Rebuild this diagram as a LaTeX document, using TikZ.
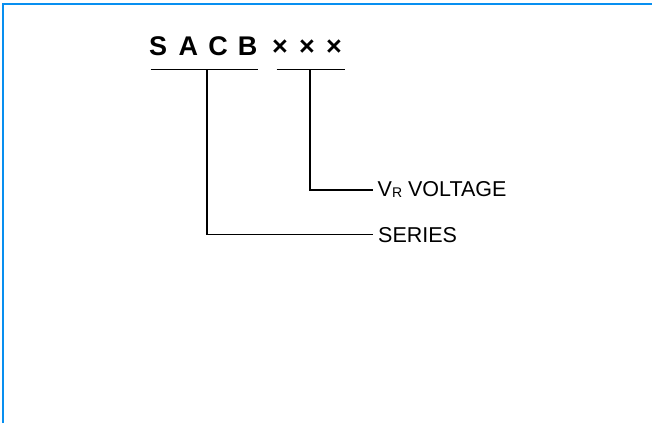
\documentclass[tikz,border=0pt]{standalone}
\usepackage{fontspec}
\setmainfont{Liberation Sans}
\definecolor{frameblue}{RGB}{8,143,240}
\begin{document}
\begin{tikzpicture}[x=1pt,y=-1pt,
  lbl/.style={inner sep=0pt,anchor=base west,font=\fontsize{21.5}{21.5}\selectfont},
  ttl/.style={inner sep=0pt,anchor=base west,font=\fontsize{27}{27}\selectfont\bfseries},
  conn/.style={line width=1.3pt,black}]
\useasboundingbox (0,0) rectangle (652,423);
\fill[white] (0,0) rectangle (652,423);
% frame
\draw[frameblue,line width=1.8pt] (2.7,423) -- (2.7,4) -- (652,4);
% title
\node[ttl] (series) at (149,55) {S\hspace{11.5pt}A\hspace{10.3pt}C\hspace{9.8pt}B};
\node[ttl] (code) at (272,55) {×\hspace{11.2pt}×\hspace{11.2pt}×};
% underlines
\coordinate (a1) at (150.7,69.5);
\coordinate (a2) at (257.7,69.5);
\coordinate (b1) at (276.7,69.5);
\coordinate (b2) at (344.5,69.5);
\coordinate (am) at (207,69.5);
\coordinate (bm) at (310,69.5);
\draw[conn] (a1) -- (a2);
\draw[conn] (b1) -- (b2);
% labels
\node[lbl] (volt) at (377.5,196) {V\raisebox{-1.5pt}{\fontsize{14}{14}\selectfont R} VOLTAGE};
\node[lbl] (ser) at (378,242) {SERIES};
\coordinate (ve) at (373,190);
\coordinate (se) at (373,234.5);
\draw[conn] (bm) |- (ve);
\draw[conn] (am) |- (se);
\end{tikzpicture}
\end{document}
